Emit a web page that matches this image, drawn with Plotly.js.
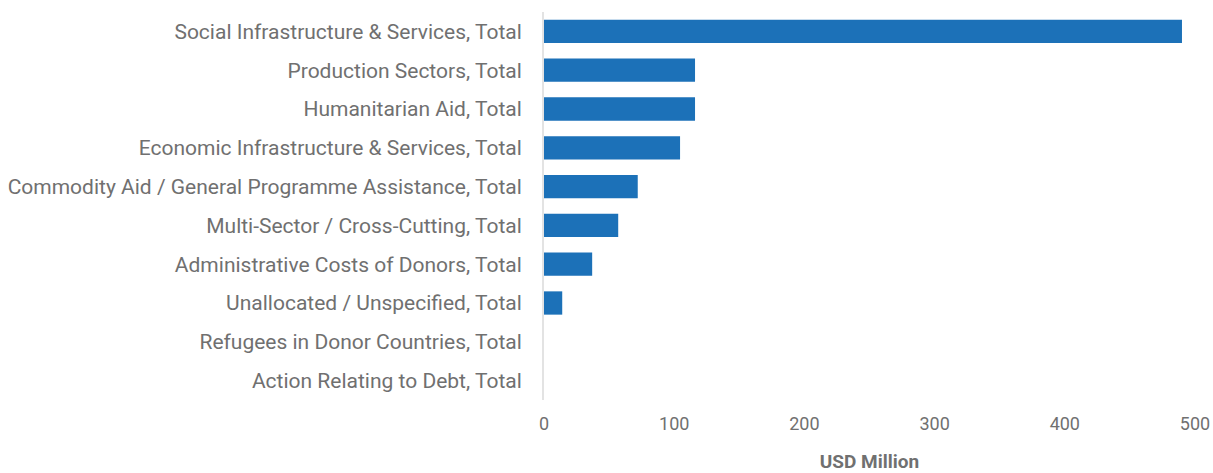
<!DOCTYPE html>
<html>
<head>
<meta charset="utf-8">
<script src="https://cdn.plot.ly/plotly-3.0.1.min.js"></script>
<style>html,body{margin:0;padding:0;background:#fff;}#chart{width:1213px;height:473px;}</style>
</head>
<body>
<div id="chart"></div>
<script>
const categories = [
  "Social Infrastructure & Services, Total",
  "Production Sectors, Total",
  "Humanitarian Aid, Total",
  "Economic Infrastructure & Services, Total",
  "Commodity Aid / General Programme Assistance, Total",
  "Multi-Sector / Cross-Cutting, Total",
  "Administrative Costs of Donors, Total",
  "Unallocated / Unspecified, Total",
  "Refugees in Donor Countries, Total",
  "Action Relating to Debt, Total"
];
const values = [490, 116, 116, 104.5, 72, 57, 37, 14, 0, 0];
const xTicks = [0, 100, 200, 300, 400, 500];

const trace = {
  type: 'bar',
  orientation: 'h',
  y: categories,
  x: values,
  marker: {color: '#1c71b8'},
  hoverinfo: 'x+y'
};

const layout = {
  width: 1213,
  height: 473,
  margin: {l: 544, r: 18, t: 12, b: 73},
  paper_bgcolor: '#fff',
  plot_bgcolor: '#fff',
  bargap: 0.4,
  showlegend: false,
  font: {family: 'Roboto, sans-serif', color: '#707070', size: 18},
  xaxis: {
    range: [0, 500],
    tickvals: xTicks,
    ticktext: xTicks.map(String),
    showgrid: false,
    zeroline: false,
    showline: false,
    ticks: 'outside',
    ticklen: 7,
    tickcolor: 'rgba(0,0,0,0)',
    tickfont: {size: 18, color: '#707070'},
    title: {text: '<b>USD Million</b>', font: {size: 19, color: '#707070'}, standoff: 23}
  },
  yaxis: {
    autorange: 'reversed',
    showgrid: false,
    zeroline: false,
    showline: true,
    linecolor: '#e3e3e3',
    linewidth: 2,
    ticks: 'outside',
    ticklen: 16,
    tickcolor: 'rgba(0,0,0,0)',
    tickfont: {size: 21, color: '#707070'}
  }
};

Plotly.newPlot('chart', [trace], layout, {displayModeBar: false, staticPlot: true});
</script>
</body>
</html>
